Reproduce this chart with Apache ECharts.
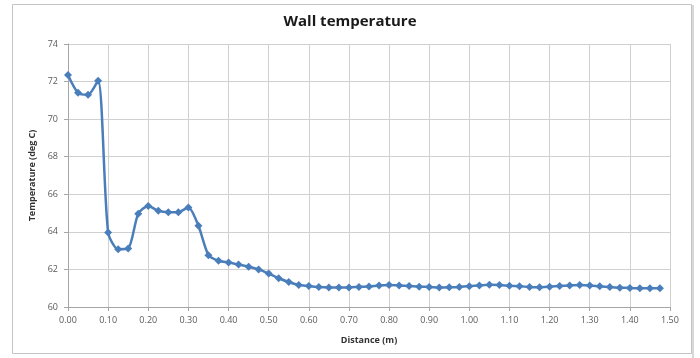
<!DOCTYPE html>
<html>
<head>
<meta charset="utf-8">
<script src="https://cdn.jsdelivr.net/npm/echarts@6/dist/echarts.min.js"></script>
<style>
  html, body { margin: 0; padding: 0; background: #ffffff; }
  #chart { width: 700px; height: 358px; }
</style>
</head>
<body>
<div id="chart"></div>
<script>
const distances = [
  0.000, 0.025, 0.050, 0.075, 0.100, 0.125, 0.150, 0.175, 0.200, 0.225,
  0.250, 0.275, 0.300, 0.325, 0.350, 0.375, 0.400, 0.425, 0.450, 0.475,
  0.500, 0.525, 0.550, 0.575, 0.600, 0.625, 0.650, 0.675, 0.700, 0.725,
  0.750, 0.775, 0.800, 0.825, 0.850, 0.875, 0.900, 0.925, 0.950, 0.975,
  1.000, 1.025, 1.050, 1.075, 1.100, 1.125, 1.150, 1.175, 1.200, 1.225,
  1.250, 1.275, 1.300, 1.325, 1.350, 1.375, 1.400, 1.425, 1.450, 1.475
];
const temperatures = [
  72.35, 71.40, 71.30, 72.05, 63.97, 63.08, 63.12, 64.96, 65.38, 65.12,
  65.05, 65.05, 65.30, 64.32, 62.76, 62.46, 62.37, 62.26, 62.14, 62.00,
  61.78, 61.53, 61.33, 61.17, 61.12, 61.06, 61.04, 61.04, 61.04, 61.07,
  61.09, 61.15, 61.17, 61.15, 61.12, 61.08, 61.07, 61.04, 61.05, 61.07,
  61.11, 61.15, 61.19, 61.17, 61.13, 61.10, 61.07, 61.05, 61.08, 61.12,
  61.15, 61.17, 61.15, 61.10, 61.06, 61.03, 61.01, 61.00, 61.00, 61.00
];
const xTicks = { min: 0, max: 1.5, interval: 0.1 };
const yTicks = { min: 60, max: 74, interval: 2 };
const titleText = 'Wall temperature';
const xName = 'Distance (m)';
const yName = 'Temperature (deg C)';

const chart = echarts.init(document.getElementById('chart'), null, { renderer: 'canvas' });
const fontFam = '"Open Sans", "Liberation Sans", sans-serif';
chart.setOption({
  animation: false,
  backgroundColor: '#ffffff',
  title: {
    text: titleText,
    left: 'center',
    top: 9,
    textStyle: { fontFamily: fontFam, fontSize: 15, fontWeight: 'bold', color: '#1a1a1a' }
  },
  graphic: [
    { type: 'rect', shape: { x: 12.5, y: 4.5, width: 679, height: 349 },
      style: { fill: 'none', stroke: '#c4c4c4', lineWidth: 1 } },
    { type: 'line', shape: { x1: 693, y1: 5, x2: 693, y2: 358 },
      style: { stroke: '#d8d8d8', lineWidth: 2 } }
  ],
  grid: { left: 68, right: 30, top: 44, bottom: 51, containLabel: false },
  xAxis: {
    type: 'value',
    min: xTicks.min, max: xTicks.max, interval: xTicks.interval,
    name: xName,
    nameLocation: 'middle',
    nameGap: 29,
    nameTextStyle: { fontFamily: fontFam, fontSize: 9, fontWeight: 'bold', color: '#333' },
    axisLine: { show: true, lineStyle: { color: '#a6a6a6', width: 1 } },
    axisTick: { show: true, length: 4, lineStyle: { color: '#a6a6a6' } },
    axisLabel: { fontFamily: fontFam, fontSize: 9, color: '#595959', margin: 9,
      formatter: v => v.toFixed(2) },
    splitLine: { show: true, lineStyle: { color: '#d0d0d0', width: 1 } }
  },
  yAxis: {
    type: 'value',
    min: yTicks.min, max: yTicks.max, interval: yTicks.interval,
    name: yName,
    nameLocation: 'middle',
    nameGap: 27,
    nameTextStyle: { fontFamily: fontFam, fontSize: 9, fontWeight: 'bold', color: '#333' },
    axisLine: { show: true, lineStyle: { color: '#a6a6a6', width: 1 } },
    axisTick: { show: true, length: 4, lineStyle: { color: '#a6a6a6' } },
    axisLabel: { fontFamily: fontFam, fontSize: 9, color: '#595959', margin: 10 },
    splitLine: { show: true, lineStyle: { color: '#d0d0d0', width: 1 } }
  },
  series: [{
    type: 'line',
    data: distances.map((d, i) => [d, temperatures[i]]),
    smooth: 0.25,
    symbol: 'diamond',
    symbolSize: 8,
    lineStyle: { color: '#4a7ebb', width: 2.5 },
    itemStyle: { color: '#4a7ebb' }
  }]
});
</script>
</body>
</html>
